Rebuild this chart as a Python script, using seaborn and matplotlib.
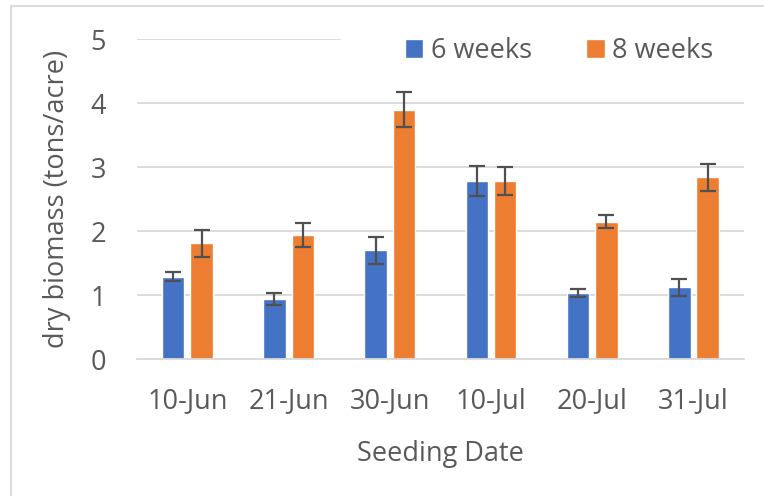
import pandas as pd
import numpy as np
import matplotlib.pyplot as plt
import seaborn as sns
from matplotlib.patches import Rectangle

# data
dates = ["10-Jun", "21-Jun", "30-Jun", "10-Jul", "20-Jul", "31-Jul"]
weeks6 = [1.29, 0.94, 1.70, 2.78, 1.03, 1.12]
weeks8 = [1.81, 1.94, 3.90, 2.78, 2.15, 2.84]
err6 = [0.075, 0.09, 0.21, 0.235, 0.065, 0.135]
err8 = [0.21, 0.19, 0.27, 0.215, 0.10, 0.215]
series = ["6 weeks", "8 weeks"]
colors = ["#4472C4", "#ED7D31"]

df = pd.DataFrame({
    "date": dates * 2,
    "biomass": weeks6 + weeks8,
    "series": [series[0]] * len(dates) + [series[1]] * len(dates),
})

sns.set_style("white")
plt.rcParams["font.family"] = ["Open Sans", "DejaVu Sans"]
text_col = "#595959"
grid_col = "#D9D9D9"
fs = 19.5

fig = plt.figure(figsize=(7.64, 4.96), dpi=100)
ax = fig.add_axes([0.179, 0.276, 0.795, 0.645])

sns.barplot(data=df, x="date", y="biomass", hue="series", palette=colors,
            width=0.56, gap=0.21, errorbar=None, ax=ax, zorder=2,
            saturation=1)

# error bars at the bar centres
for cont, errs in zip(ax.containers, [err6, err8]):
    xs = [p.get_x() + p.get_width() / 2 for p in cont.patches]
    ys = [p.get_height() for p in cont.patches]
    ax.errorbar(xs, ys, yerr=errs, fmt="none", ecolor="#505050",
                elinewidth=1.6, capsize=6, capthick=1.6, zorder=3)

ax.set_ylim(0, 5)
ax.set_xlim(-0.5, len(dates) - 0.5)
ax.set_yticks(range(0, 6))
ax.yaxis.grid(True, color=grid_col, linewidth=1.3)
ax.set_axisbelow(True)
# top gridline is partly hidden behind the legend box in the original
ax.yaxis.get_gridlines()[-1].set_visible(False)
ax.axhline(5, xmin=0, xmax=0.335, color=grid_col, linewidth=1.3, zorder=0.5)
for s in ["top", "right", "left"]:
    ax.spines[s].set_visible(False)
ax.spines["bottom"].set_color(grid_col)
ax.spines["bottom"].set_linewidth(1.3)

ax.tick_params(axis="both", which="major", length=0, labelsize=fs,
               labelcolor=text_col)
ax.tick_params(axis="y", which="major", pad=22)
ax.tick_params(axis="x", which="major", pad=20)
ax.set_xticks(np.arange(-0.5, len(dates), 1), minor=True)
ax.tick_params(axis="x", which="minor", length=10, width=1.3, color=grid_col)

ax.set_xlabel("Seeding Date", fontsize=fs, color=text_col, labelpad=18)
ax.set_ylabel("dry biomass (tons/acre)", fontsize=fs, color=text_col, labelpad=14)

leg = ax.legend(loc="upper right", bbox_to_anchor=(0.985, 1.075), ncol=2,
                fontsize=fs, frameon=False,
                handlelength=0.68, handleheight=0.68,
                handletextpad=0.28, columnspacing=2.0, borderpad=0.3)
for t in leg.get_texts():
    t.set_color(text_col)

# outer chart frame
fig.patches.append(Rectangle((11 / 764, -0.1), 1.2, 1 - 6 / 496 + 0.1,
                             transform=fig.transFigure, fill=False,
                             edgecolor=grid_col, linewidth=1.3))

fig.savefig("out.png", dpi=100, facecolor="white")
